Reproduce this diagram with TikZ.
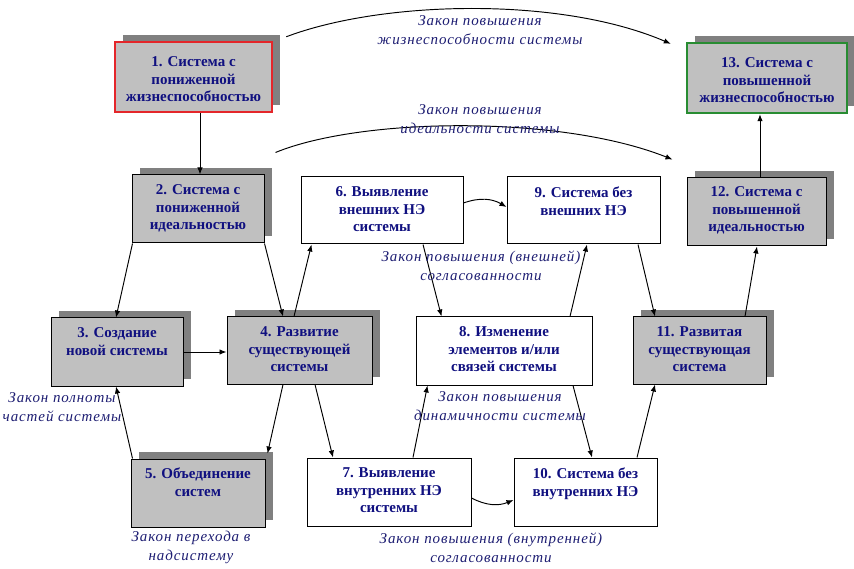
\documentclass[tikz,border=0pt]{standalone}
\usepackage{fontspec}
\setmainfont{Liberation Serif}
\newfontfamily\lawfont{Liberation Serif}[LetterSpace=6]
\usetikzlibrary{arrows.meta,shadows}

\definecolor{boxgray}{RGB}{192,192,192}
\definecolor{shadowgray}{RGB}{128,128,128}
\definecolor{navytext}{RGB}{16,16,128}
\definecolor{lawblue}{RGB}{30,30,115}
\definecolor{redframe}{RGB}{228,38,42}
\definecolor{greenframe}{RGB}{40,140,50}

% box content: width, height, top padding, text
\newcommand\stagetext[4]{\parbox[c][#2pt][t]{#1pt}{\centering\vspace*{#3pt}#4}}

\tikzset{
  stage/.style={draw=black, line width=1pt, inner sep=0pt,
    font=\fontsize{15}{17.5}\selectfont\bfseries, text=navytext},
  grayed/.style={stage, fill=boxgray,
    drop shadow={shadow xshift=8pt, shadow yshift=7pt, fill=shadowgray, draw=none, opacity=1}},
  plain/.style={stage, fill=white},
  law/.style={font=\lawfont\itshape\fontsize{15}{19}\selectfont, text=lawblue,
    align=center, inner sep=0pt},
  flow/.style={draw=black, line width=0.95pt, -{Latex[length=7pt,width=5.5pt]}}
}

\begin{document}
\begin{tikzpicture}[x=1pt,y=-1pt]
\fill[white] (0,0) rectangle (854,569);
\useasboundingbox (0,0) rectangle (854,569);

% stages
\node[grayed, draw=redframe, line width=2.4pt] (n1) at (193.5,77)
  {\stagetext{157}{70}{15}{1. Система с\\пониженной\\жизнеспособностью}};
\node[grayed] (n2) at (198,209)
  {\stagetext{132}{68}{10}{2. Система с\\пониженной\\идеальностью}};
\node[grayed] (n3) at (117,352)
  {\stagetext{132}{68}{10}{3. Создание\\новой системы}};
\node[grayed] (n4) at (299.5,350.5)
  {\stagetext{145}{67}{10}{4. Развитие\\существующей\\системы}};
\node[grayed] (n5) at (198,493)
  {\stagetext{134}{68}{9}{5. Объединение\\систем}};
\node[plain] (n6) at (382,210.5)
  {\stagetext{162}{67}{10}{6. Выявление\\внешних НЭ\\системы}};
\node[plain] (n7) at (389,492)
  {\stagetext{164}{68}{10}{7. Выявление\\внутренних НЭ\\системы}};
\node[plain] (n8) at (504,351)
  {\stagetext{176}{68}{10}{8. Изменение\\элементов и/или\\связей системы}};
\node[plain] (n9) at (583.5,210.5)
  {\stagetext{153}{67}{10}{9. Система без\\внешних НЭ}};
\node[plain] (n10) at (585.5,492)
  {\stagetext{143}{68}{10}{10. Система без\\внутренних НЭ}};
\node[grayed] (n11) at (699.5,350.5)
  {\stagetext{133}{67}{10}{11. Развитая\\существующая\\система}};
\node[grayed] (n12) at (756.5,212)
  {\stagetext{139}{68}{9}{12. Система с\\повышенной\\идеальностью}};
\node[grayed, draw=greenframe, line width=2.4pt] (n13) at (767,78)
  {\stagetext{160}{70}{15}{13. Система с\\повышенной\\жизнеспособностью}};

% transitions
\draw[flow] ([xshift=6.5pt]n1.south) -- ([xshift=2pt]n2.north);
\draw[flow] ([xshift=1pt]n2.south west) -- ([xshift=-1pt]n3.north);
\draw[flow] (n2.south east) -- ([xshift=-16.5pt]n4.north);
\draw[flow] ([xshift=-5.5pt]n4.north) -- ([xshift=11pt]n6.south west);
\draw[flow] (n3.east) -- (n3.east -| n4.west);
\draw[flow] ([xshift=2pt]n5.north west) -- ([xshift=-1pt]n3.south);
\draw[flow] ([xshift=-16.5pt]n4.south) -- ([xshift=2pt,yshift=5pt]n5.north east);
\draw[flow] ([xshift=15.5pt]n4.south) -- ([xshift=-56pt]n7.north);
\draw[flow] ([xshift=24pt]n7.north) -- ([xshift=12pt]n8.south west);
\draw[flow] ([xshift=41pt]n6.south) -- ([xshift=26pt]n8.north west);
\draw[flow] ([xshift=66pt]n8.north) -- ([xshift=3.5pt]n9.south);
\draw[flow] ([yshift=7.5pt]n6.east) to[bend left=25] ([yshift=3.5pt]n9.west);
\draw[flow] ([xshift=54.5pt]n9.south) -- ([xshift=-44.5pt]n11.north);
\draw[flow] ([xshift=69pt]n8.south) -- ([xshift=6.5pt]n10.north);
\draw[flow] ([xshift=51.5pt]n10.north) -- ([xshift=-44.5pt]n11.south);
\draw[flow] ([yshift=-6pt]n7.east) to[bend right=25] ([yshift=-8pt]n10.west);
\draw[flow] ([xshift=45.5pt]n11.north) -- ([xshift=0.5pt]n12.south);
\draw[flow] ([xshift=3.5pt]n12.north) -- ([xshift=-7pt]n13.south);
\draw[flow] ([xshift=13pt,yshift=4pt]n1.north east)
  .. controls +(95,-36) and +(-112,-48) .. ([xshift=-15pt,yshift=-2pt]n13.north west);
\draw[flow] ([xshift=11pt,yshift=22pt]n2.north east)
  .. controls +(85,-35) and +(-113,-45) .. ([xshift=-14pt,yshift=18pt]n12.north west);

% laws
\node[law] (law1) at (480,30) {Закон повышения\\жизнеспособности системы};
\node[law] (law2) at (480,119) {Закон повышения\\идеальности системы};
\node[law] (law3) at (481,266) {Закон повышения (внешней)\\согласованности};
\node[law] (law4) at (62,407.5) {Закон полноты\\частей системы};
\node[law] (law5) at (500,406.5) {Закон повышения\\динамичности системы};
\node[law] (law6) at (191,547.5) {Закон перехода в\\надсистему};
\node[law] (law7) at (491,547.5) {Закон повышения (внутренней)\\согласованности};
\end{tikzpicture}
\end{document}
